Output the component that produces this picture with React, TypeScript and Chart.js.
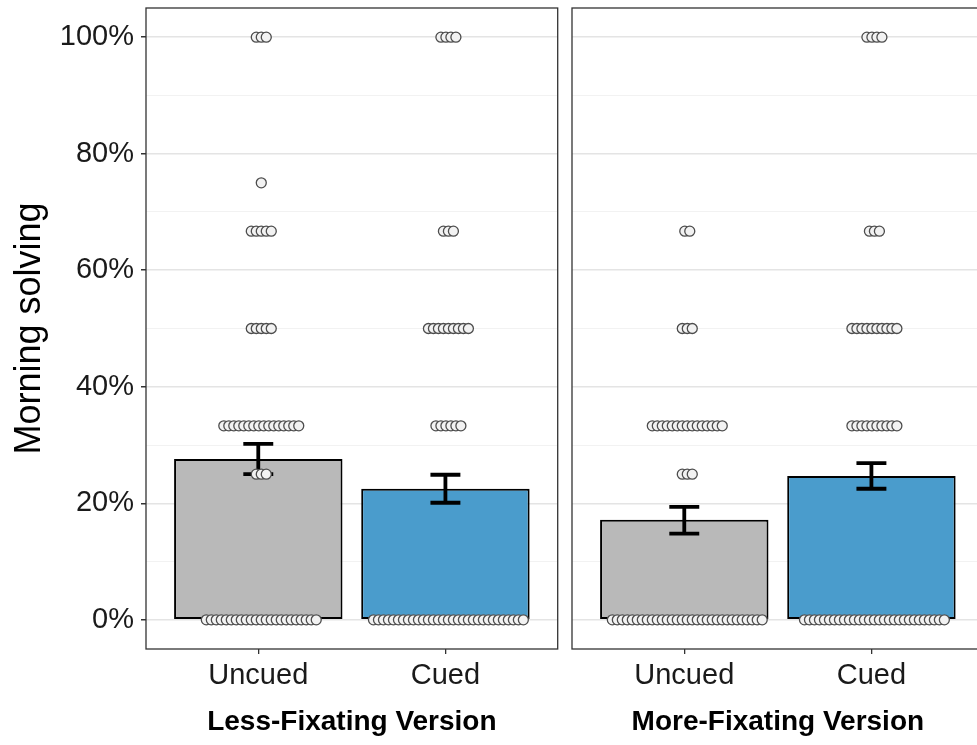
import React, { useEffect, useRef } from 'react';
import { Chart, registerables } from 'chart.js';

Chart.register(...registerables);

// ---- data ----
const conditions = ['Uncued', 'Cued'];
const panelTitles = ['Less-Fixating Version', 'More-Fixating Version'];
const yAxisTitle = 'Morning solving';

const lessMeans = [27.6, 22.5];
const lessLow = [25.0, 20.1];
const lessHigh = [30.2, 24.9];

const moreMeans = [17.2, 24.7];
const moreLow = [14.8, 22.5];
const moreHigh = [19.4, 26.9];

// individual participant scores: number of participants at each score level
const scoreLevels = [0, 25, 33.3, 50, 66.7, 75, 100];
const lessUncuedCounts = [23, 3, 16, 5, 5, 1, 3];
const lessCuedCounts = [31, 0, 6, 9, 3, 0, 4];
const moreUncuedCounts = [31, 3, 15, 3, 2, 0, 0];
const moreCuedCounts = [29, 0, 10, 10, 3, 0, 4];

const yTickValues = [0, 10, 20, 30, 40, 50, 60, 70, 80, 90, 100];
const barColors = ['#b9b9b9', '#4a9ccc'];

const FONT = '"Liberation Sans", Arial, Helvetica, sans-serif';
const DOT_STEP = 0.0267; // horizontal spacing of stacked dots (x units)
const DOT_SHIFT = 0.016;

function buildDots(countsByGroup: number[][]) {
  const pts: { x: number; y: number }[] = [];
  countsByGroup.forEach((counts, g) => {
    counts.forEach((n, li) => {
      for (let i = 0; i < n; i++) {
        pts.push({ x: g + DOT_SHIFT + (i - (n - 1) / 2) * DOT_STEP, y: scoreLevels[li] });
      }
    });
  });
  return pts;
}

type PanelProps = {
  means: number[];
  low: number[];
  high: number[];
  counts: number[][];
  title: string;
  showY: boolean;
  left: number;
  width: number;
  yWidth: number;
  padRight: number;
};

function Panel(p: PanelProps) {
  const ref = useRef<HTMLCanvasElement | null>(null);
  useEffect(() => {
    if (!ref.current) return;
    const errorBars = {
      id: 'errorBars',
      afterDatasetDraw(chart: any, args: any) {
        if (args.index !== 0) return;
        const { ctx, scales } = chart;
        const x = scales.x;
        const y = scales.y;
        ctx.save();
        ctx.strokeStyle = '#000';
        ctx.lineWidth = 3.8;
        p.low.forEach((lo, i) => {
          const px = x.getPixelForValue(i);
          const cap = x.getPixelForValue(i + 0.08) - px;
          const yl = y.getPixelForValue(lo);
          const yh = y.getPixelForValue(p.high[i]);
          ctx.beginPath();
          ctx.moveTo(px, yl);
          ctx.lineTo(px, yh);
          ctx.moveTo(px - cap, yl);
          ctx.lineTo(px + cap, yl);
          ctx.moveTo(px - cap, yh);
          ctx.lineTo(px + cap, yh);
          ctx.stroke();
        });
        ctx.restore();
      },
    };
    const panelBorder = {
      id: 'panelBorder',
      afterDraw(chart: any) {
        const { ctx, chartArea: a } = chart;
        ctx.save();
        ctx.strokeStyle = '#333';
        ctx.lineWidth = 1.3;
        ctx.strokeRect(a.left, a.top, a.right - a.left, a.bottom - a.top);
        ctx.restore();
      },
    };
    const chart = new Chart(ref.current, {
      type: 'bar',
      data: {
        datasets: [
          {
            type: 'bar',
            data: p.means.map((m, i) => ({ x: i, y: m })),
            backgroundColor: barColors,
            borderColor: '#000',
            borderWidth: 2,
            borderSkipped: false,
            categoryPercentage: 1,
            barPercentage: 0.9,
            order: 2,
          } as any,
          {
            type: 'scatter',
            data: buildDots(p.counts),
            pointRadius: 5,
            pointBackgroundColor: '#f2f2f2',
            pointBorderColor: '#4d4d4d',
            pointBorderWidth: 1.3,
            order: 1,
          } as any,
        ],
      },
      options: {
        animation: false,
        responsive: false,
        layout: { padding: { top: 8, right: p.padRight, bottom: 0, left: 0 } },
        plugins: { legend: { display: false }, tooltip: { enabled: false } },
        scales: {
          x: {
            type: 'linear',
            min: -0.6,
            max: 1.6,
            offset: false,
            afterBuildTicks: (s: any) => {
              s.ticks = conditions.map((_, i) => ({ value: i }));
            },
            afterFit: (s: any) => {
              s.height = 96;
              s.paddingLeft = 0;
              s.paddingRight = 0;
            },
            ticks: {
              callback: (v: any) => conditions[Math.round(Number(v))] ?? '',
              font: { family: FONT, size: 29 },
              color: '#1a1a1a',
              padding: 5,
              maxRotation: 0,
              autoSkip: false,
            },
            grid: { drawOnChartArea: false, drawTicks: true, tickLength: 5, tickColor: '#333', lineWidth: 1.3, offset: false },
            border: { display: false },
            title: {
              display: true,
              text: p.title,
              font: { family: FONT, size: 28, weight: 'bold' },
              color: '#000',
              padding: { top: 0, bottom: 6 },
            },
          },
          y: {
            type: 'linear',
            min: -5,
            max: 105,
            afterBuildTicks: (s: any) => {
              s.ticks = yTickValues.map((v) => ({ value: v }));
            },
            afterFit: (s: any) => {
              s.width = p.yWidth;
              s.paddingTop = 0;
              s.paddingBottom = 0;
            },
            ticks: {
              display: p.showY,
              autoSkip: false,
              callback: (v: any) => (Number(v) % 20 === 0 ? v + '%' : ''),
              font: { family: FONT, size: 29 },
              color: '#1a1a1a',
              padding: 7,
            },
            grid: {
              drawTicks: p.showY,
              tickLength: 5,
              color: (c: any) => (c.tick && c.tick.value % 20 === 0 ? '#e4e4e4' : '#f2f2f2'),
              lineWidth: (c: any) => (c.tick && c.tick.value % 20 === 0 ? 1.5 : 1),
              tickColor: (c: any) => (c.tick && c.tick.value % 20 === 0 ? '#333' : 'rgba(0,0,0,0)'),
            },
            border: { display: false },
            title: {
              display: p.showY,
              text: yAxisTitle,
              font: { family: FONT, size: 36 },
              color: '#000',
              padding: { top: 8, bottom: 0 },
            },
          },
        },
      },
      plugins: [errorBars, panelBorder],
    } as any);
    return () => chart.destroy();
  }, []);
  return (
    <canvas
      ref={ref}
      width={p.width}
      height={745}
      style={{ position: 'absolute', left: p.left, top: 0, width: p.width, height: 745 }}
    />
  );
}

export default function App() {
  return (
    <div
      style={{
        position: 'fixed',
        left: 0,
        top: 0,
        width: 977,
        height: 745,
        overflow: 'hidden',
        background: '#fff',
      }}
    >
      <Panel
        means={moreMeans}
        low={moreLow}
        high={moreHigh}
        counts={[moreUncuedCounts, moreCuedCounts]}
        title={panelTitles[1]}
        showY={false}
        left={560}
        width={430}
        yWidth={12}
        padRight={5.5}
      />
      <Panel
        means={lessMeans}
        low={lessLow}
        high={lessHigh}
        counts={[lessUncuedCounts, lessCuedCounts]}
        title={panelTitles[0]}
        showY={true}
        left={0}
        width={564}
        yWidth={146}
        padRight={2}
      />
    </div>
  );
}
